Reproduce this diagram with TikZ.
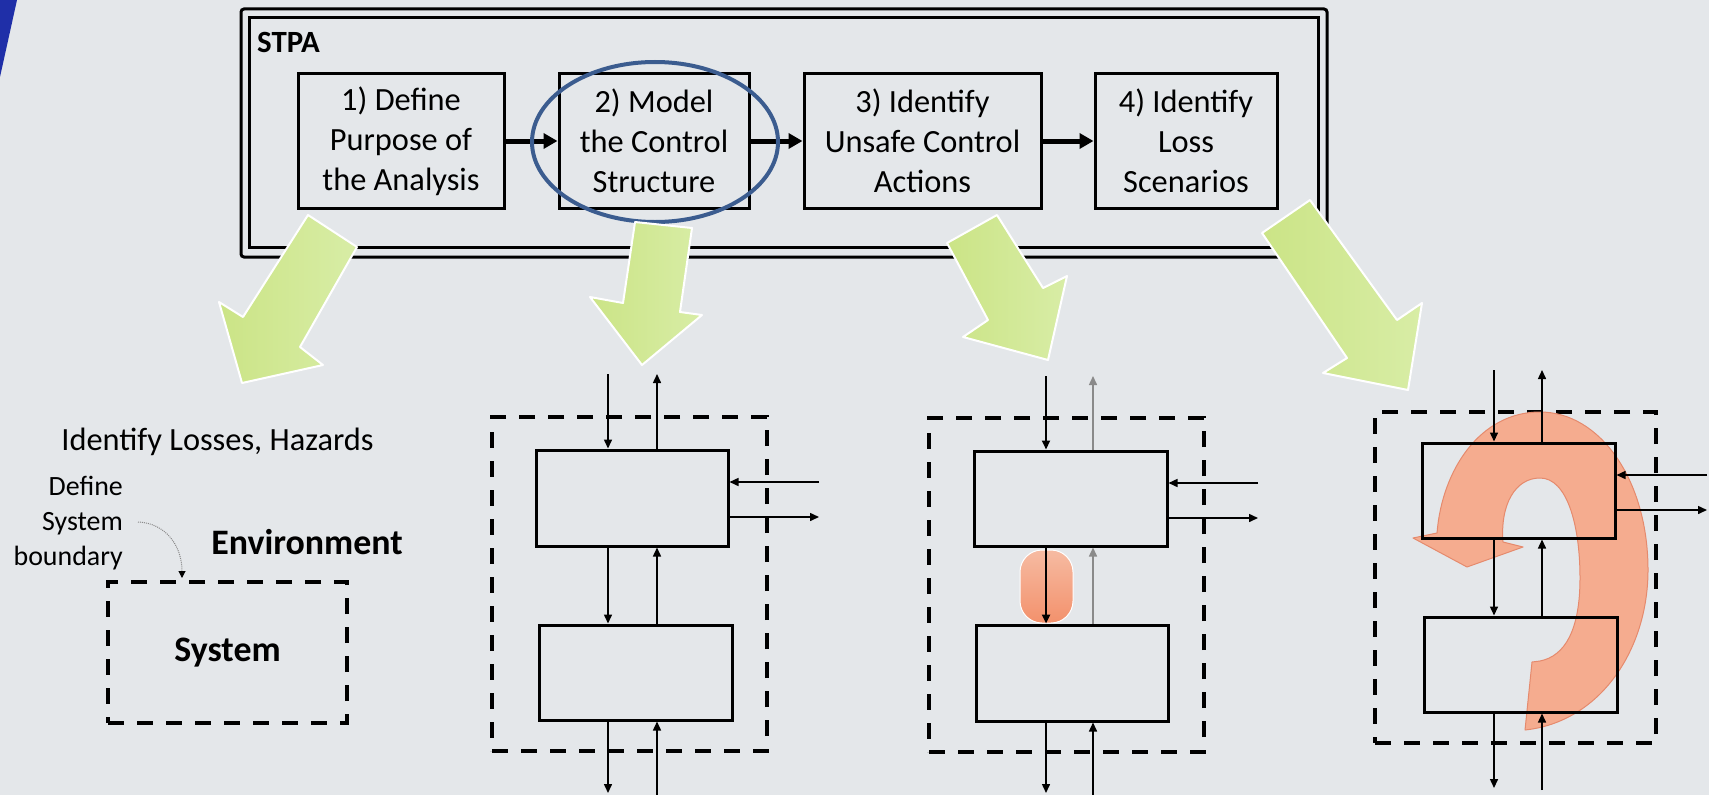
\documentclass[tikz,border=0pt]{standalone}
\usepackage{fontspec}
\setmainfont{Carlito}
\usetikzlibrary{arrows.meta,calc,shapes.geometric}
\definecolor{bg}{HTML}{E4E7EA}
\definecolor{stripe}{HTML}{1F2FA8}
\definecolor{ellblue}{HTML}{3B5C8F}
\definecolor{agreen}{HTML}{CBE486}
\definecolor{agreenlight}{HTML}{D8EDA6}
\definecolor{oranfill}{HTML}{F5AC8F}
\definecolor{oranline}{HTML}{E58A6D}
\definecolor{orantop}{HTML}{F6BBA2}
\definecolor{oranbot}{HTML}{F3916C}
\definecolor{softgray}{HTML}{8A8A8A}
\tikzset{
  stepbox/.style={draw, line width=3bp, inner sep=0pt, align=center,
    minimum height=134bp, font=\fontsize{32.5}{40}\selectfont},
  blockbox/.style={draw, line width=3bp, inner sep=0pt, minimum width=193bp, minimum height=95bp},
  dashbox/.style={draw, line width=4bp, dash pattern=on 16bp off 13bp, inner sep=0pt},
  sarrow/.style={line width=1.5bp, -{Triangle[length=9bp,width=8bp]}},
  bigarrow/.style={line width=5bp, -{Triangle[length=14bp,width=15bp]}},
  greenarrow/.style={left color=agreen, right color=agreenlight, draw=white, line width=2bp, line join=round},
}
\begin{document}
\begin{tikzpicture}[x=1bp,y=-1bp]
\fill[bg] (0,0) rectangle (1709,795);
\useasboundingbox (0,0) rectangle (1709,795);
% blue stripe
\fill[stripe] (0,0) -- (17,0) -- (0,77) -- cycle;

% STPA frame
\draw[line width=3bp, rounded corners=3bp] (241,9) rectangle (1327,257);
\draw[line width=3bp] (249,18) rectangle (1318,247);
\node[anchor=west, inner sep=0pt, font=\bfseries\fontsize{31}{34}\selectfont] (stpa) at (257,42) {STPA};

% steps
\node[stepbox, minimum width=206bp] (s1) at (401,141) {1) Define\\Purpose of\\the Analysis};
\node[stepbox, minimum width=190bp] (s2) at (654,141) {2) Model\\the Control\\Structure};
\node[stepbox, minimum width=237bp] (s3) at (922.5,141) {3) Identify\\Unsafe Control\\Actions};
\node[stepbox, minimum width=182bp] (s4) at (1186,141) {4) Identify\\Loss\\Scenarios};
\draw[bigarrow] (s1) -- (s2);
\draw[bigarrow] (s2) -- (s3);
\draw[bigarrow] (s3) -- (s4);
\node[draw=ellblue, line width=4bp, ellipse, inner sep=0pt, minimum width=246bp, minimum height=160bp] (ring) at (655,142) {};

% green block arrows
\draw[greenarrow] (308,215) -- (357,247) -- (300,347) -- (323,365) -- (242,383) -- (219,302) -- (243,317) -- cycle;
\draw[greenarrow] (635,222) -- (692,228) -- (680,312) -- (702,315) -- (642,365) -- (590,297) -- (623,303) -- cycle;
\draw[greenarrow] (947,243) -- (997,215) -- (1043,288) -- (1067,276) -- (1048,360) -- (963,337) -- (988,320) -- cycle;
\draw[greenarrow] (1262,233) -- (1310,200) -- (1397,320) -- (1422,303) -- (1408,390) -- (1323,373) -- (1347,358) -- cycle;

% ---------- panel 1 ----------
\node[font=\fontsize{32.5}{36}\selectfont] (ilh) at (217.5,442) {Identify Losses, Hazards};
\node[align=right, anchor=east, inner sep=0pt, font=\fontsize{28}{35}\selectfont] (dsb) at (123,523) {Define\\System\\boundary};
\node[font=\bfseries\fontsize{36}{40}\selectfont] (env) at (307,542) {Environment};
\node[dashbox, minimum width=239bp, minimum height=141bp, font=\bfseries\fontsize{36}{40}\selectfont] (sysb) at (227.5,652.5) {System};
\coordinate (bnd) at (182,578);
\draw[densely dotted, line width=1bp, draw=softgray, -{Triangle[length=7bp,width=7bp,color=black,fill=black]}]
  ($(dsb.east)+(15,-1)$) .. controls (165,523) and (182,545) .. (bnd);

% ---------- panel 2 ----------
\node[dashbox, minimum width=275bp, minimum height=334bp] (d2) at (629.5,584) {};
\node[blockbox, minimum width=192bp, minimum height=96bp] (b2u) at (632,498) {};
\node[blockbox] (b2l) at (635.5,672.5) {};
\coordinate (p2t1) at (608,374); \coordinate (p2t2) at (657,374);
\coordinate (p2b1) at (608,793); \coordinate (p2b2) at (657,797);
\coordinate (p2r1) at (819,482); \coordinate (p2r2) at (819,517);
\draw[sarrow] (p2t1) -- (p2t1 |- b2u.north);
\draw[sarrow] (p2t2 |- b2u.north) -- (p2t2);
\draw[sarrow] (p2t1 |- b2u.south) -- (p2t1 |- b2l.north);
\draw[sarrow] (p2t2 |- b2l.north) -- (p2t2 |- b2u.south);
\draw[sarrow] (p2b1 |- b2l.south) -- (p2b1);
\draw[sarrow] (p2b2) -- (p2b2 |- b2l.south);
\draw[sarrow] (p2r1) -- (p2r1 -| b2u.east);
\draw[sarrow] (p2r2 -| b2u.east) -- (p2r2);

% ---------- panel 3 ----------
\node[dashbox, minimum width=275bp, minimum height=334bp] (d3) at (1066.5,585) {};
\node[blockbox] (b3u) at (1070.5,498.5) {};
\node[blockbox, minimum width=192bp, minimum height=96bp] (b3l) at (1072,673) {};
\node[draw=white, line width=1bp, rounded corners=22bp, top color=orantop, bottom color=oranbot,
  minimum width=53bp, minimum height=73bp, inner sep=0pt] (uca) at (1046.5,586.5) {};
\coordinate (p3t1) at (1046,376); \coordinate (p3t2) at (1093,376);
\coordinate (p3b1) at (1046,793); \coordinate (p3b2) at (1093,797);
\coordinate (p3r1) at (1258,483); \coordinate (p3r2) at (1258,518);
\draw[sarrow, line width=2bp] (p3t1) -- (p3t1 |- b3u.north);
\draw[sarrow, draw=softgray] (p3t2 |- b3u.north) -- (p3t2);
\draw[sarrow, line width=2.5bp] (p3t1 |- b3u.south) -- (p3t1 |- b3l.north);
\draw[sarrow, draw=softgray] (p3t2 |- b3l.north) -- (p3t2 |- b3u.south);
\draw[sarrow] (p3b1 |- b3l.south) -- (p3b1);
\draw[sarrow] (p3b2) -- (p3b2 |- b3l.south);
\draw[sarrow] (p3r1) -- (p3r1 -| b3u.east);
\draw[sarrow] (p3r2 -| b3u.east) -- (p3r2);

% ---------- panel 4 ----------
\node[dashbox, minimum width=281bp, minimum height=331bp] (d4) at (1515.5,577.5) {};
\fill[oranfill, draw=oranline, line width=1bp, line join=round]
  (1525,730) .. controls (1600,722) and (1648,650) .. (1648,570)
  .. controls (1648,480) and (1600,412) .. (1540,412)
  .. controls (1480,412) and (1442,470) .. (1437,533)
  -- (1413,538) -- (1467,567) -- (1523,547) -- (1503,542)
  .. controls (1500,505) and (1515,478) .. (1540,478)
  .. controls (1567,478) and (1580,525) .. (1580,578)
  .. controls (1580,630) and (1565,656) .. (1540,661)
  -- (1532,662) -- cycle;
\node[blockbox] (b4u) at (1518.5,490.5) {};
\node[blockbox] (b4l) at (1520.5,664.5) {};
\coordinate (p4t1) at (1494,370); \coordinate (p4t2) at (1542,370);
\coordinate (p4b1) at (1494,788); \coordinate (p4b2) at (1542,790);
\coordinate (p4r1) at (1707,475); \coordinate (p4r2) at (1707,510);
\draw[sarrow] (p4t1) -- (p4t1 |- b4u.north);
\draw[sarrow] (p4t2 |- b4u.north) -- (p4t2);
\draw[sarrow] (p4t1 |- b4u.south) -- (p4t1 |- b4l.north);
\draw[sarrow] (p4t2 |- b4l.north) -- (p4t2 |- b4u.south);
\draw[sarrow] (p4b1 |- b4l.south) -- (p4b1);
\draw[sarrow] (p4b2) -- (p4b2 |- b4l.south);
\draw[sarrow] (p4r1) -- (p4r1 -| b4u.east);
\draw[sarrow] (p4r2 -| b4u.east) -- (p4r2);
\end{tikzpicture}
\end{document}
